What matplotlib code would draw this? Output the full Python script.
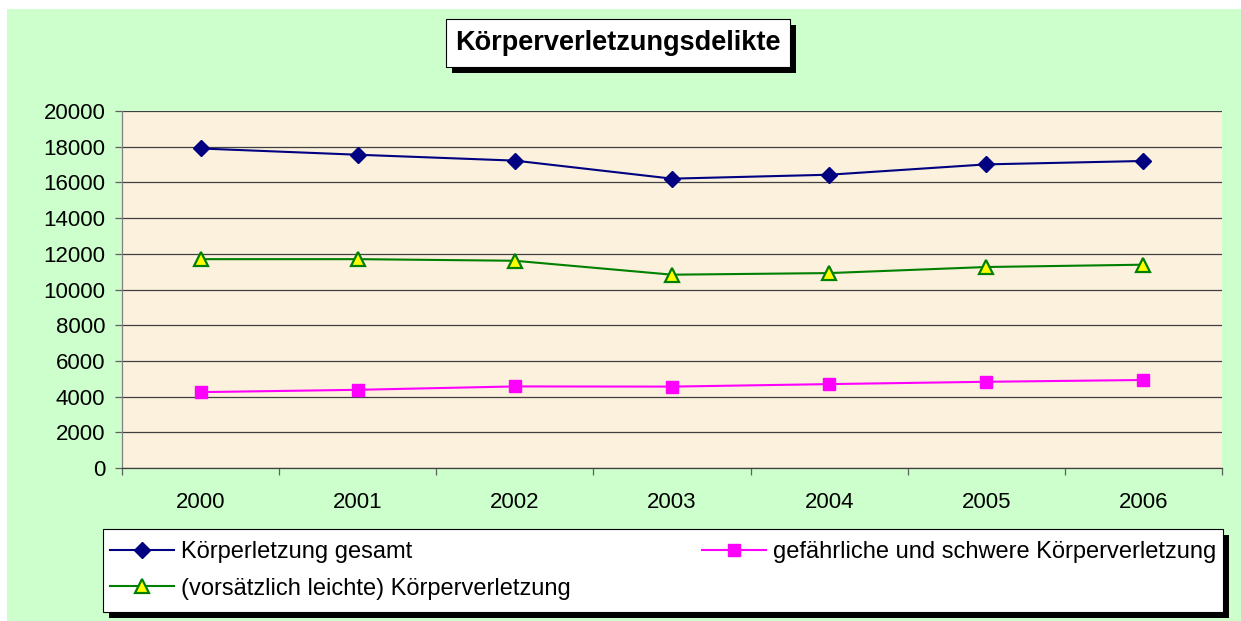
import numpy as np
import matplotlib
matplotlib.use("Agg")
import matplotlib.pyplot as plt
from matplotlib.patches import Rectangle

plt.rcParams['font.family'] = ['Liberation Sans', 'DejaVu Sans']

# data
years = ['2000', '2001', '2002', '2003', '2004', '2005', '2006']
gesamt = [17900, 17550, 17220, 16210, 16430, 17010, 17200]
leicht = [11700, 11700, 11610, 10830, 10920, 11260, 11390]
schwer = [4250, 4380, 4570, 4560, 4700, 4830, 4930]

label_gesamt = 'Körperletzung gesamt'
label_schwer = 'gefährliche und schwere Körperverletzung'
label_leicht = '(vorsätzlich leichte) Körperverletzung'
title = 'Körperverletzungsdelikte'
yticks = np.arange(0, 20001, 2000)

W, H = 1241, 621

# pixel box (left, top, right, bottom) -> figure fraction rect
def frac(l, t, r, b):
	return (l / W, (H - b) / H, (r - l) / W, (b - t) / H)

fig = plt.figure(figsize=(W / 100, H / 100), dpi=100)
fig.patch.set_facecolor('white')

# light green chart area
x, y, w, h = frac(7, 9, 1241, 621)
fig.add_artist(Rectangle((x, y), w, h, transform=fig.transFigure,
	facecolor='#CCFFCC', edgecolor='none', zorder=-10))

ax = fig.add_axes(frac(122, 111, 1222, 468))
ax.set_facecolor('#FBF1DD')

xs = np.arange(len(years))
ax.plot(xs, gesamt, color='#000080', lw=1.5, marker='D', ms=8,
	mfc='#000080', mec='#000080', label=label_gesamt, zorder=3)
ax.plot(xs, leicht, color='#008000', lw=1.5, marker='^', ms=10.5,
	mfc='#FFFF00', mec='#008000', mew=1.6, label=label_leicht, zorder=3)
ax.plot(xs, schwer, color='#FF00FF', lw=1.5, marker='s', ms=8.5,
	mfc='#FF00FF', mec='#FF00FF', label=label_schwer, zorder=3)

ax.set_xlim(-0.5, len(years) - 0.5)
ax.set_ylim(0, 20000)
ax.set_yticks(yticks)
ax.set_yticklabels([str(v) for v in yticks])
ax.set_xticks(xs)
ax.set_xticklabels(years)
ax.set_xticks(np.arange(-0.5, len(years)), minor=True)

ax.yaxis.grid(True, color='#404040', lw=0.9)
ax.set_axisbelow(True)
ax.tick_params(axis='y', direction='out', length=5, width=0.9, color='#606060',
	pad=7, labelsize=16)
ax.tick_params(axis='x', which='major', length=0, pad=17, labelsize=16)
ax.tick_params(axis='x', which='minor', direction='out', length=5, width=0.9,
	color='#606060')

for s in ['top', 'right']:
	ax.spines[s].set_visible(False)
ax.spines['left'].set_color('#808080')
ax.spines['bottom'].set_color('#404040')
ax.spines['left'].set_linewidth(0.9)
ax.spines['bottom'].set_linewidth(0.9)

# box with a black drop shadow
def shadow_box(l, t, r, b, off=6):
	x, y, w, h = frac(l + off, t + off, r + off, b + off)
	fig.add_artist(Rectangle((x, y), w, h, transform=fig.transFigure,
		facecolor='black', edgecolor='none', zorder=5))
	x, y, w, h = frac(l, t, r, b)
	fig.add_artist(Rectangle((x, y), w, h, transform=fig.transFigure,
		facecolor='white', edgecolor='black', lw=0.8, zorder=6))

shadow_box(446, 19, 790, 67)
fig.text((446 + 790) / 2 / W, 1 - 43 / H, title, ha='center', va='center',
	fontsize=19.5, fontweight='bold', zorder=7)

# legend box
shadow_box(103, 529, 1223, 612)
handles, labels = ax.get_legend_handles_labels()
x, y, w, h = frac(103, 529, 1223, 612)
leg = fig.legend(handles, labels,
	loc='center', bbox_to_anchor=(x, y, w, h), mode='expand', ncol=2,
	frameon=False, fontsize=17, handlelength=2.7, handletextpad=0.3,
	labelspacing=0.6, borderpad=0.3, borderaxespad=0)
leg.set_zorder(8)

plt.savefig('out.png', dpi=100)
